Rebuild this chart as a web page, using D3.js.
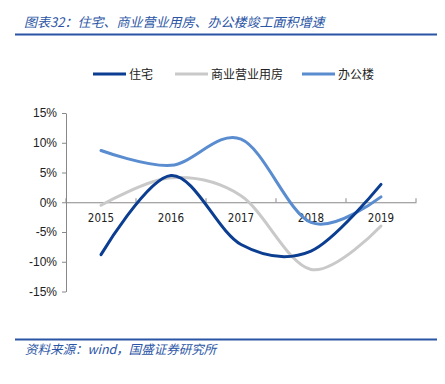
<!DOCTYPE html>
<html><head><meta charset="utf-8">
<script src="https://cdn.jsdelivr.net/npm/d3@7"></script>
<style>body{margin:0;background:#fff;} svg{display:block;}</style>
</head><body>
<svg id="c" width="445" height="384"></svg>
<script>
const title = "图表32：住宅、商业营业用房、办公楼竣工面积增速";
const source = "资料来源：wind，国盛证券研究所";
const years = ["2015","2016","2017","2018","2019"];
const seriesNames = ["住宅","商业营业用房","办公楼"];
const residential = [-8.8, 4.5, -7.1, -8.2, 3.0];
const commercial = [-0.5, 4.1, 1.1, -11.3, -4.0];
const office = [8.7, 6.2, 10.6, -3.4, 0.9];
const yTicks = [15, 10, 5, 0, -5, -10, -15];
const colors = ["#0b3d91", "#c9c9c9", "#5a8cd0"];

const svg = d3.select("#c");
const blue = "#2a55a5";
svg.append("text").attr("x", 24).attr("y", 27).text(title)
  .attr("font-family", "Noto Sans CJK SC").attr("font-style", "italic")
  .attr("font-size", 13).attr("fill", blue);
svg.append("line").attr("x1", 15).attr("x2", 437).attr("y1", 34.5).attr("y2", 34.5)
  .attr("stroke", blue).attr("stroke-width", 2);
svg.append("line").attr("x1", 15).attr("x2", 437).attr("y1", 339.5).attr("y2", 339.5)
  .attr("stroke", blue).attr("stroke-width", 2);
svg.append("text").attr("x", 25).attr("y", 354).text(source)
  .attr("font-family", "Noto Sans CJK SC").attr("font-style", "italic")
  .attr("font-size", 12.5).attr("fill", blue);

const x = d3.scaleBand().domain(years).range([66, 416]);
const y = d3.scaleLinear().domain([-15, 15]).range([291.5, 113]);

const ya = svg.append("g").attr("transform", "translate(66,0)")
  .call(d3.axisLeft(y).tickValues(yTicks).tickFormat(d => d + "%").tickSize(4).tickSizeOuter(0));
ya.select(".domain").attr("stroke", "#888");
ya.selectAll(".tick line").attr("stroke", "#888");
ya.selectAll("text").attr("font-family", "Liberation Sans").attr("font-size", 12).attr("fill", "#222").attr("x", -9);

const xa = svg.append("g").attr("transform", `translate(0,${y(0)})`)
  .call(d3.axisBottom(x).tickSize(0).tickSizeOuter(0));
xa.select(".domain").attr("stroke", "#888");
xa.selectAll("text").attr("font-family", "DejaVu Sans Condensed, Liberation Sans").attr("font-size", 11.5).attr("fill", "#222").attr("dy", "1.45em");
xa.selectAll(".bt").data(x.domain().concat(["end"])).enter().append("line")
  .attr("x1", (d, i) => 66 + i * x.step()).attr("x2", (d, i) => 66 + i * x.step())
  .attr("y1", 0).attr("y2", -4).attr("stroke", "#888");

const line = d3.line().x((d, i) => x(years[i]) + x.bandwidth() / 2).y(d => y(d))
  .curve(d3.curveCatmullRom.alpha(0));
[commercial, office, residential].forEach((s, k) => {
  const ci = [1, 2, 0][k];
  svg.append("path").attr("d", line(s)).attr("fill", "none")
    .attr("stroke", colors[ci]).attr("stroke-width", 3).attr("stroke-linecap", "round");
});

const legX = [93, 175, 302];
seriesNames.forEach((n, i) => {
  svg.append("line").attr("x1", legX[i]).attr("x2", legX[i] + 33).attr("y1", 74).attr("y2", 74)
    .attr("stroke", colors[i]).attr("stroke-width", 3);
  svg.append("text").attr("x", legX[i] + 36).attr("y", 78.5).text(n)
    .attr("font-family", "Noto Sans CJK SC").attr("font-size", 12).attr("fill", "#222");
});
</script>
</body></html>
